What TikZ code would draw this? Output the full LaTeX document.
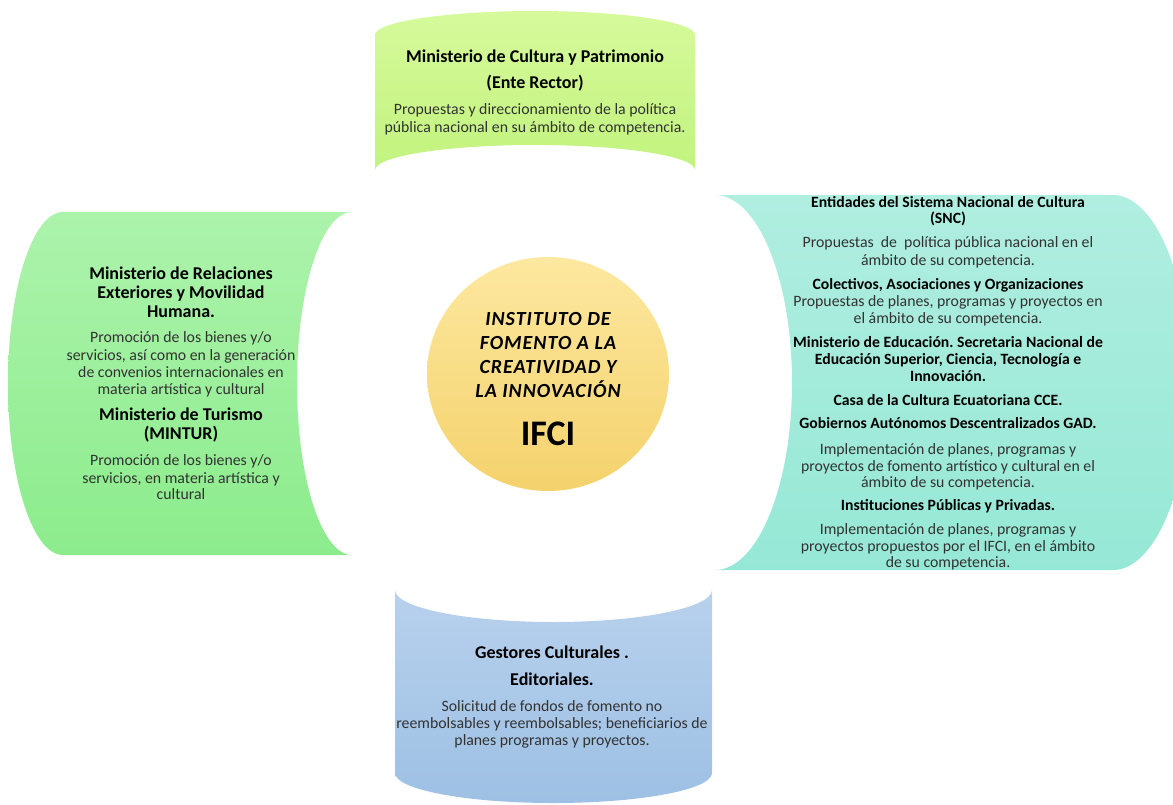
\documentclass[tikz,border=0pt]{standalone}
\usepackage{fontspec}
\setmainfont{Carlito}
\frenchspacing
\definecolor{topA}{RGB}{214,250,155}
\definecolor{topB}{RGB}{194,243,126}
\definecolor{leftA}{RGB}{172,243,172}
\definecolor{leftB}{RGB}{140,236,140}
\definecolor{rightA}{RGB}{176,238,224}
\definecolor{rightB}{RGB}{150,232,214}
\definecolor{botA}{RGB}{184,209,237}
\definecolor{botB}{RGB}{157,192,228}
\definecolor{circA}{RGB}{253,232,160}
\definecolor{circB}{RGB}{244,210,108}
\definecolor{txtgray}{RGB}{50,50,50}
\begin{document}
\frenchspacing
\begin{tikzpicture}[x=1pt,y=-1pt,
  ttl/.style={font=\fontsize{18}{20}\selectfont\bfseries,text=black,inner sep=0pt,anchor=base},
  bdy/.style={font=\fontsize{15.8}{18}\selectfont,text=txtgray,inner sep=0pt,anchor=base},
  rttl/.style={font=\fontsize{15.7}{17}\selectfont\bfseries,text=black,inner sep=0pt,anchor=base},
  rbdy/.style={font=\fontsize{15.8}{17}\selectfont,text=txtgray,inner sep=0pt,anchor=base},
  ctxt/.style={font=\fontsize{20}{22}\selectfont\bfseries\itshape\addfontfeature{LetterSpace=5},text=black,inner sep=0pt,anchor=base},
  ifci/.style={font=\fontsize{36}{40}\selectfont\bfseries,text=black,inner sep=0pt,anchor=base}]
\useasboundingbox (0,0) rectangle (1173,804);
% top shape
\shade[top color=topA,bottom color=topB]
  (375,170) -- (375,35) arc[start angle=180,end angle=0,x radius=160pt,y radius=24pt]
  -- (695,170) arc[start angle=0,end angle=180,x radius=160pt,y radius=25pt] -- cycle;
% left shape
\shade[top color=leftA,bottom color=leftB]
  (352,212) -- (63,212) arc[start angle=90,end angle=270,x radius=55pt,y radius=171.5pt]
  -- (352,555) arc[start angle=270,end angle=90,x radius=55pt,y radius=171.5pt] -- cycle;
% right shape
\shade[top color=rightA,bottom color=rightB]
  (715,195) -- (1113,195) arc[start angle=90,end angle=-90,x radius=77pt,y radius=187.5pt]
  -- (715,570) arc[start angle=-90,end angle=90,x radius=77pt,y radius=187.5pt] -- cycle;
% bottom shape
\shade[top color=botA,bottom color=botB]
  (395,590) -- (395,773) arc[start angle=180,end angle=360,x radius=158.5pt,y radius=30pt]
  -- (712,590) arc[start angle=0,end angle=-180,x radius=158.5pt,y radius=32pt] -- cycle;
% centre circle
\shade[top color=circA,bottom color=circB] (548,374) ellipse [x radius=121pt,y radius=117pt];

% top texts
\node[ttl] (t1) at (535,62) {Ministerio de Cultura y Patrimonio};
\node[ttl] (t2) at (535,88) {(Ente Rector)};
\node[bdy] (t3) at (535,114) {Propuestas y direccionamiento de la política};
\node[bdy] (t4) at (535,132) {pública nacional en su ámbito de competencia.};

% left texts
\node[ttl] (l1) at (181,279) {Ministerio de Relaciones};
\node[ttl] (l2) at (181,298) {Exteriores y Movilidad};
\node[ttl] (l3) at (181,317) {Humana.};
\node[bdy] (l4) at (181,342) {Promoción de los bienes y/o};
\node[bdy] (l5) at (181,360) {servicios, así como en la generación};
\node[bdy] (l6) at (181,377) {de convenios internacionales en};
\node[bdy] (l7) at (181,394) {materia artística y cultural};
\node[ttl] (l8) at (181,420) {Ministerio de Turismo};
\node[ttl] (l9) at (181,439) {(MINTUR)};
\node[bdy] (l10) at (181,465) {Promoción de los bienes y/o};
\node[bdy] (l11) at (181,483) {servicios, en materia artística y};
\node[bdy] (l12) at (181,499) {cultural};

% right texts
\node[rttl] (r1) at (948,207) {Entidades del Sistema Nacional de Cultura};
\node[rttl] (r2) at (948,223) {(SNC)};
\node[rbdy] (r3) at (948,247) {Propuestas\ \ de\ \ política pública nacional en el};
\node[rbdy] (r4) at (948,265) {ámbito de su competencia.};
\node[rttl] (r5) at (948,289) {Colectivos, Asociaciones y Organizaciones};
\node[rbdy] (r6) at (948,306) {Propuestas de planes, programas y proyectos en};
\node[rbdy] (r7) at (948,323) {el ámbito de su competencia.};
\node[rttl] (r8) at (948,347) {Ministerio de Educación. Secretaria Nacional de};
\node[rttl] (r9) at (948,364) {Educación Superior, Ciencia, Tecnología e};
\node[rttl] (r10) at (948,381) {Innovación.};
\node[rttl] (r11) at (948,405) {Casa de la Cultura Ecuatoriana CCE.};
\node[rttl] (r12) at (948,428) {Gobiernos Autónomos Descentralizados GAD.};
\node[rbdy] (r13) at (948,454) {Implementación de planes, programas y};
\node[rbdy] (r14) at (948,471) {proyectos de fomento artístico y cultural en el};
\node[rbdy] (r15) at (948,487) {ámbito de su competencia.};
\node[rttl] (r16) at (948,510) {Instituciones Públicas y Privadas.};
\node[rbdy] (r17) at (948,534) {Implementación de planes, programas y};
\node[rbdy] (r18) at (948,551) {proyectos propuestos por el IFCI, en el ámbito};
\node[rbdy] (r19) at (948,567) {de su competencia.};

% bottom texts
\node[ttl] (b1) at (552,658) {Gestores Culturales .};
\node[ttl] (b2) at (552,685) {Editoriales.};
\node[bdy] (b3) at (552,711) {Solicitud de fondos de fomento no};
\node[bdy] (b4) at (552,728) {reembolsables y reembolsables; beneficiarios de};
\node[bdy] (b5) at (552,745) {planes programas y proyectos.};

% centre texts
\node[ctxt] (c1) at (548,325) {INSTITUTO DE};
\node[ctxt] (c2) at (548,349) {FOMENTO A LA};
\node[ctxt] (c3) at (548,373) {CREATIVIDAD Y};
\node[ctxt] (c4) at (548,397) {LA INNOVACIÓN};
\node[ifci] (c5) at (548,445) {IFCI};
\end{tikzpicture}
\end{document}
